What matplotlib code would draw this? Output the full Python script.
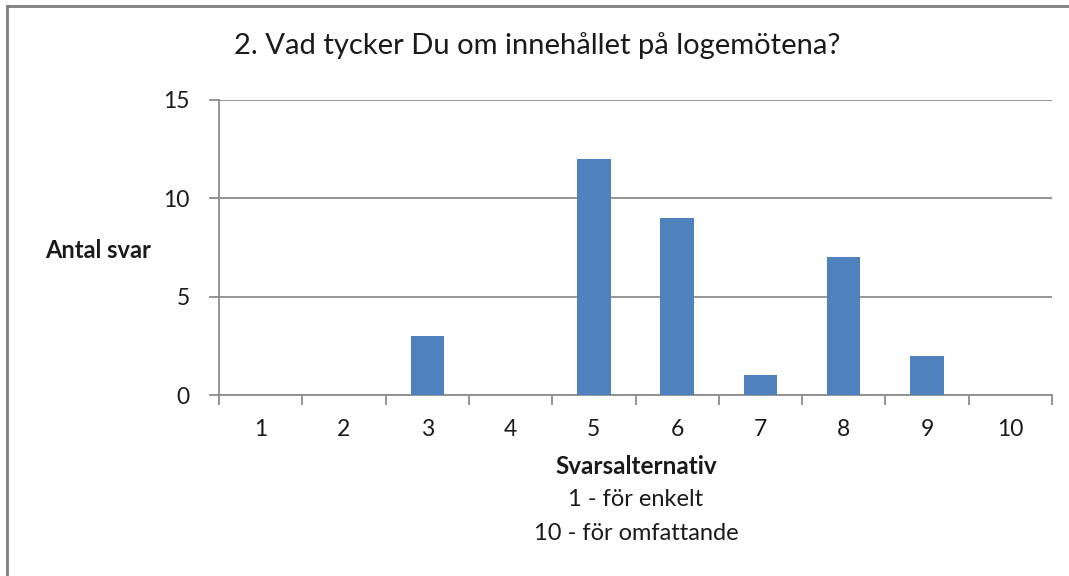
import matplotlib.pyplot as plt
from matplotlib.lines import Line2D

# data
alternativ = [1, 2, 3, 4, 5, 6, 7, 8, 9, 10]
antal_svar = [0, 0, 3, 0, 12, 9, 1, 7, 2, 0]

titel = "2. Vad tycker Du om innehållet på logemötena?"
y_titel = "Antal svar"
x_titel = "Svarsalternativ"
x_under = ["1 - för enkelt", "10 - för omfattande"]

plt.rcParams["font.family"] = ["Lato", "DejaVu Sans"]
text_farg = "#1a1a1a"
grid_farg = "#8c8c8c"
bar_farg = "#4f81bd"

fig = plt.figure(figsize=(10.69, 5.76), dpi=100)
ax = fig.add_axes([219 / 1069, 1 - 395 / 576, 833 / 1069, 295 / 576])

ax.bar(alternativ, antal_svar, width=0.4, color=bar_farg, zorder=3)

ax.set_xlim(0.5, 10.5)
ax.set_ylim(0, 15)
ax.set_yticks([0, 5, 10, 15])
ax.set_xticks(alternativ)
ax.set_xticks([a + 0.5 for a in range(0, 11)], minor=True)

ax.grid(axis="y", color=grid_farg, linewidth=1.3, zorder=0)
for s in ["top", "right"]:
    ax.spines[s].set_visible(False)
for s in ["left", "bottom"]:
    ax.spines[s].set_color(grid_farg)
    ax.spines[s].set_linewidth(1.3)

ax.tick_params(axis="y", direction="out", length=7, width=1.3, color=grid_farg,
               labelsize=16.5, labelcolor=text_farg, pad=14)
ax.tick_params(axis="x", which="major", length=0, labelsize=16.5,
               labelcolor=text_farg, pad=17)
ax.tick_params(axis="x", which="minor", direction="out", length=7, width=1.3,
               color=grid_farg)

# rubriker
fig.text(537 / 1069, 1 - 46 / 576, titel, ha="center", va="center",
         fontsize=21, color=text_farg)
fig.text(45 / 1069, 1 - 250 / 576, y_titel, ha="left", va="center",
         fontsize=17, fontweight="bold", color=text_farg)
fig.text(636 / 1069, 1 - 467 / 576, x_titel, ha="center", va="center",
         fontsize=17.5, fontweight="bold", color=text_farg)
fig.text(636 / 1069, 1 - 500 / 576, x_under[0], ha="center", va="center",
         fontsize=17, color=text_farg)
fig.text(636 / 1069, 1 - 534 / 576, x_under[1], ha="center", va="center",
         fontsize=17, color=text_farg)

# ram runt diagrammet (vänster och överkant syns i originalet)
fig.add_artist(Line2D([7 / 1069, 7 / 1069], [0, 1 - 6 / 576],
                      transform=fig.transFigure, color="#7f7f7f", linewidth=2))
fig.add_artist(Line2D([7 / 1069, 1], [1 - 6 / 576, 1 - 6 / 576],
                      transform=fig.transFigure, color="#7f7f7f", linewidth=2))

fig.savefig("out.png", dpi=100)
